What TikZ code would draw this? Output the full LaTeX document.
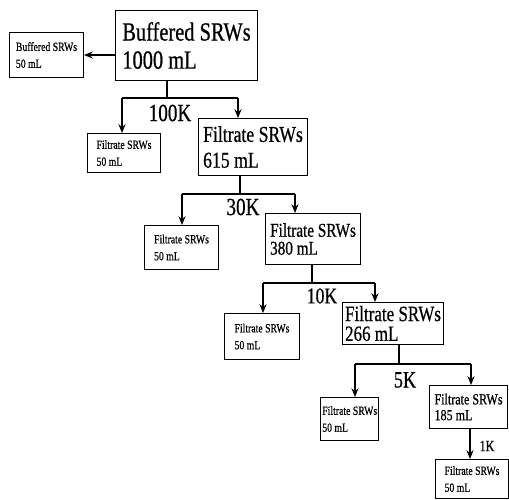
\documentclass[tikz,border=0pt]{standalone}
\usepackage{fontspec}
\usepackage{tikz}
\usetikzlibrary{calc, arrows.meta, positioning}
\newfontfamily\condfont[FakeStretch=0.78, FakeBold=0.6]{Liberation Serif}

\begin{document}
\begin{tikzpicture}[x=0.02cm, y=-0.02cm, line width=0.6pt,
    bigbox/.style={draw, anchor=north west, inner sep=1pt, align=left, font=\condfont\fontsize{14.9}{16}\selectfont},
    midbox/.style={draw, anchor=north west, inner sep=1pt, align=left, font=\condfont\fontsize{12.9}{14.7}\selectfont},
    smallbox/.style={draw, anchor=north west, inner sep=1pt, align=left, font=\condfont\fontsize{7.1}{9.6}\selectfont},
    lbl/.style={inner sep=0pt, font=\condfont\fontsize{14}{15}\selectfont},
    arr/.style={-{Stealth[length=5pt, width=4pt]}}]
    \useasboundingbox (0,0) rectangle (509,499);
    % boxes
    \node[bigbox, minimum width=2.84cm, minimum height=1.40cm] (buf) at (115,10) {Buffered SRWs\\1000 mL};
    \node[smallbox, minimum width=1.48cm, minimum height=0.90cm] (b0) at (9,32) {Buffered SRWs\\50 mL};
    \node[smallbox, minimum width=1.46cm, minimum height=0.78cm] (s1) at (87,133) {Filtrate SRWs\\50 mL};
    \node[midbox, minimum width=2.18cm, minimum height=1.14cm] (f1) at (198,118) {Filtrate SRWs\\615 mL};
    \node[smallbox, minimum width=1.48cm, minimum height=0.88cm] (s2) at (144,225) {Filtrate SRWs\\50 mL};
    \node[midbox, font=\condfont\fontsize{11.1}{10.2}\selectfont, minimum width=1.90cm, minimum height=1.02cm] (f2) at (265,213) {Filtrate SRWs\\380 mL};
    \node[smallbox, minimum width=1.50cm, minimum height=0.92cm] (s3) at (224,313) {Filtrate SRWs\\50 mL};
    \node[midbox, font=\condfont\fontsize{12.4}{11.3}\selectfont, minimum width=2.02cm, minimum height=0.84cm] (f3) at (342,302) {Filtrate SRWs\\266 mL};
    \node[smallbox, minimum width=1.10cm, minimum height=0.86cm] (s4) at (320,397) {Filtrate SRWs\\50 mL};
    \node[midbox, font=\condfont\fontsize{8.8}{9}\selectfont, minimum width=1.56cm, minimum height=0.86cm] (f4) at (429,385) {Filtrate SRWs\\185 mL};
    \node[smallbox, minimum width=1.46cm, minimum height=0.78cm] (s5) at (435,459) {Filtrate SRWs\\50 mL};
    % junctions
    \coordinate (j1) at (167,98);  \coordinate (j1l) at (122,98); \coordinate (j1r) at (238,98);
    \coordinate (j2) at (240,194); \coordinate (j2l) at (182,194); \coordinate (j2r) at (295,194);
    \coordinate (j3) at (312,283); \coordinate (j3l) at (263,283); \coordinate (j3r) at (375,283);
    \coordinate (j4) at (399,364); \coordinate (j4l) at (355,364); \coordinate (j4r) at (471,364);
    \coordinate (j5) at (470,0);
    % connectors
    \draw[arr] (buf.west |- b0.east) -- (b0.east);
    \draw (buf.south -| j1) -- (j1) (j1l) -- (j1r);
    \draw[arr] (j1l) -- (j1l |- s1.north);
    \draw[arr] (j1r) -- (j1r |- f1.north);
    \draw (f1.south -| j2) -- (j2) (j2l) -- (j2r);
    \draw[arr] (j2l) -- (j2l |- s2.north);
    \draw[arr] (j2r) -- (j2r |- f2.north);
    \draw (f2.south -| j3) -- (j3) (j3l) -- (j3r);
    \draw[arr] (j3l) -- (j3l |- s3.north);
    \draw[arr] (j3r) -- (j3r |- f3.north);
    \draw (f3.south -| j4) -- (j4) (j4l) -- (j4r);
    \draw[arr] (j4l) -- (j4l |- s4.north);
    \draw[arr] (j4r) -- (j4r |- f4.north);
    \draw[arr] (f4.south -| j5) -- (s5.north -| j5);
    % cut-offs
    \node[lbl] (k100) at (170,113) {100K};
    \node[lbl] (k30) at (243,207) {30K};
    \node[lbl, font=\condfont\fontsize{12.9}{14}\selectfont] (k10) at (322,296) {10K};
    \node[lbl, font=\condfont\fontsize{13.3}{14}\selectfont] (k5) at (405,380) {5K};
    \node[lbl, font=\condfont\fontsize{8.9}{10}\selectfont] (k1) at (487,446) {1K};
  \end{tikzpicture}
\end{document}
